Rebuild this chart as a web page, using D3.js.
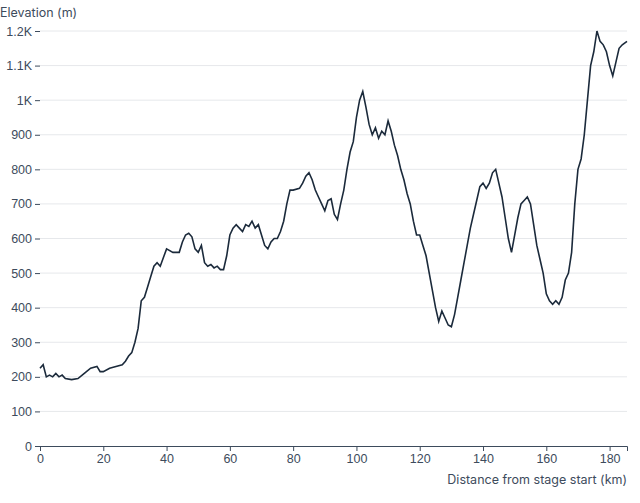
<!DOCTYPE html><html><head><meta charset="utf-8">
<script src="https://cdn.jsdelivr.net/npm/d3@7"></script>
<style>body{margin:0;background:#fff}svg{font-family:Inter,"Noto Sans",sans-serif}</style></head><body>
<svg id="c" width="640" height="503"></svg>
<script>
const distances=[0,1,2,3,4,5,6,7,8,10,12,14,16,18,19,20,22,24,26,27,28,29,30,31,32,33,34,35,36,37,38,39,40,42,44,45,46,47,48,49,50,51,52,53,54,55,56,57,58,59,60,61,62,63,64,65,66,67,68,69,70,71,72,73,74,75,76,77,78,79,80,82,83,84,85,86,87,88,89,90,91,92,93,94,95,96,97,98,99,100,101,102,103,104,105,106,107,108,109,110,111,112,113,114,115,116,117,118,119,120,121,122,123,124,125,126,127,128,129,130,131,132,133,134,135,136,137,138,139,140,141,142,143,144,145,146,147,148,149,150,151,152,153,154,155,156,157,158,159,160,161,162,163,164,165,166,167,168,169,170,171,172,173,174,175,176,177,178,179,180,181,182,183,184,185.5];
const elevations=[225,235,200,205,200,210,200,205,195,192,195,210,225,230,215,215,225,230,235,245,260,270,300,340,420,430,460,490,520,530,520,545,570,560,560,590,610,615,605,570,560,580,530,520,525,515,520,510,510,550,610,630,640,630,620,640,635,650,630,640,610,580,570,590,600,600,620,650,700,740,740,745,760,780,790,770,740,720,700,680,710,715,670,655,700,740,800,850,880,950,1000,1025,980,930,900,920,890,910,900,940,910,870,840,800,770,730,700,650,610,610,580,550,500,450,400,360,390,370,350,345,380,430,480,530,580,630,670,710,750,760,745,760,790,800,760,720,660,600,560,610,660,700,710,720,700,640,580,540,500,440,420,410,420,410,430,480,500,560,700,800,830,900,1000,1100,1140,1200,1170,1160,1140,1100,1070,1110,1150,1160,1170];
const yTicks=[0,100,200,300,400,500,600,700,800,900,1000,1100,1200];
const xTicks=[0,20,40,60,80,100,120,140,160,180];
const data=distances.map((d,i)=>({d,e:elevations[i]}));
const svg=d3.select("#c");
const x=d3.scaleLinear().domain([0,185.5]).range([40,627]);
const y=d3.scaleLinear().domain([0,1200]).range([446,31]);
const txt="#3d4b5c";
const fmt=v=>v>=1000?d3.format(".2~s")(v).replace("k","K"):String(v);
svg.append("g").selectAll("line").data(yTicks.slice(1)).join("line")
 .attr("x1",40).attr("x2",627).attr("y1",d=>y(d)).attr("y2",d=>y(d)).attr("stroke","#e6e8eb");
const ya=svg.append("g").attr("transform","translate(40,0)").call(d3.axisLeft(y).tickValues(yTicks).tickFormat(fmt).tickSize(5));
ya.select(".domain").remove();
ya.selectAll("text").attr("fill",txt).attr("font-size",12.5);
ya.selectAll("line").attr("stroke",txt);
const xa=svg.append("g").attr("transform","translate(0,446)").call(d3.axisBottom(x).tickValues(xTicks).tickSize(5));
xa.select(".domain").attr("stroke",txt);
xa.selectAll("text").attr("fill",txt).attr("font-size",12.5);
xa.selectAll("line").attr("stroke",txt);
svg.append("path").datum(data).attr("fill","none").attr("stroke","#1b2a3b").attr("stroke-width",1.6)
 .attr("d",d3.line().x(d=>x(d.d)).y(d=>y(d.e)));
svg.append("text").attr("x",0).attr("y",17).attr("fill",txt).attr("font-size",12.5).text("Elevation (m)");
svg.append("text").attr("x",627).attr("y",484).attr("text-anchor","end").attr("fill",txt).attr("font-size",12.5).text("Distance from stage start (km)");
</script></body></html>
